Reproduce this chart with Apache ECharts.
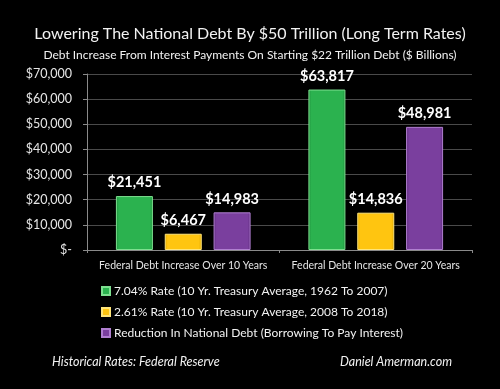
<!DOCTYPE html>
<html><head><meta charset="utf-8">
<style>html,body{margin:0;padding:0;background:#000;}#c{width:500px;height:389px;}</style>
<script src="https://cdn.jsdelivr.net/npm/echarts@6/dist/echarts.min.js"></script>
</head><body><div id="c"></div>
<script>
const categories = ['Federal Debt Increase Over 10 Years', 'Federal Debt Increase Over 20 Years'];
const seriesNames = [
  '7.04% Rate (10 Yr. Treasury Average, 1962 To 2007)',
  '2.61% Rate (10 Yr. Treasury Average, 2008 To 2018)',
  'Reduction In National Debt (Borrowing To Pay Interest)'
];
const highRate = [21451, 63817];
const lowRate = [6467, 14836];
const reduction = [14983, 48981];
const yTicks = [0, 10000, 20000, 30000, 40000, 50000, 60000, 70000];

const colors = ['#2bb24f', '#ffc510', '#7a3f9e'];
const light = ['#7de08f', '#ffe57a', '#b07fd0'];
const dark = ['#1f8f3c', '#e0a800', '#5e2c7e'];
const font = 'Lato, "Open Sans", sans-serif';

function money(v){ return v === 0 ? '$-' : '$' + v.toLocaleString('en-US'); }

const chart = echarts.init(document.getElementById('c'));
function barSeries(name, data, i){
  return {
    name: name, type: 'bar', data: data, barWidth: 37, barGap: '32%',
    itemStyle: {
      color: new echarts.graphic.LinearGradient(0,0,1,0,[
        {offset:0,color:dark[i]},{offset:0.08,color:colors[i]},{offset:0.92,color:colors[i]},{offset:1,color:dark[i]}
      ]),
      borderColor: light[i], borderWidth: 1
    },
    label: {show: true, position: 'top', distance: 6, color: '#fff', fontWeight: 'bold', fontSize: 14.5,
      fontFamily: font, formatter: p => money(p.value)}
  };
}
chart.setOption({
  backgroundColor: '#000',
  animation: false,
  color: colors,
  title: [
    {text: 'Lowering The National Debt By $50 Trillion (Long Term Rates)', left: 'center', top: 21,
      textStyle: {color: '#f2f2f2', fontSize: 16, fontWeight: 'normal', fontFamily: font}},
    {text: 'Debt Increase From Interest Payments On Starting $22 Trillion Debt ($ Billions)', left: 'center', top: 44,
      textStyle: {color: '#f2f2f2', fontSize: 12, fontWeight: 'normal', fontFamily: font}},
    {text: 'Historical Rates: Federal Reserve', left: 47, top: 350,
      textStyle: {color: '#f2f2f2', fontSize: 12.5, fontStyle: 'italic', fontWeight: 'normal', fontFamily: font}},
    {text: 'Daniel Amerman.com', left: 335, top: 350,
      textStyle: {color: '#f2f2f2', fontSize: 12.5, fontStyle: 'italic', fontWeight: 'normal', fontFamily: font}}
  ],
  legend: {
    orient: 'vertical', left: 96, top: 280, itemGap: 9, itemWidth: 8, itemHeight: 8,
    icon: 'rect', data: seriesNames,
    textStyle: {color: '#f2f2f2', fontSize: 12, fontFamily: font, padding: [0,0,0,-1]}
  },
  grid: {left: 87, right: 28, top: 74, bottom: 139, containLabel: false},
  xAxis: {
    type: 'category', data: categories,
    axisLine: {lineStyle: {color: '#8a8a8a'}},
    axisTick: {show: true, length: 3, lineStyle: {color: '#8a8a8a'}},
    axisLabel: {color: '#e6e6e6', fontSize: 10.5, fontFamily: font, margin: 10, interval: 0}
  },
  yAxis: {
    type: 'value', min: 0, max: 70000, interval: 10000,
    axisLine: {show: true, lineStyle: {color: '#8a8a8a'}},
    axisTick: {show: true, length: 4, lineStyle: {color: '#8a8a8a'}},
    splitLine: {lineStyle: {color: '#4a4a4a'}},
    axisLabel: {color: '#e6e6e6', fontSize: 12.5, fontFamily: font, margin: 15,
      formatter: v => yTicks.includes(v) ? money(v) : ''}
  },
  series: [
    barSeries(seriesNames[0], highRate, 0),
    barSeries(seriesNames[1], lowRate, 1),
    barSeries(seriesNames[2], reduction, 2)
  ]
});
</script></body></html>
